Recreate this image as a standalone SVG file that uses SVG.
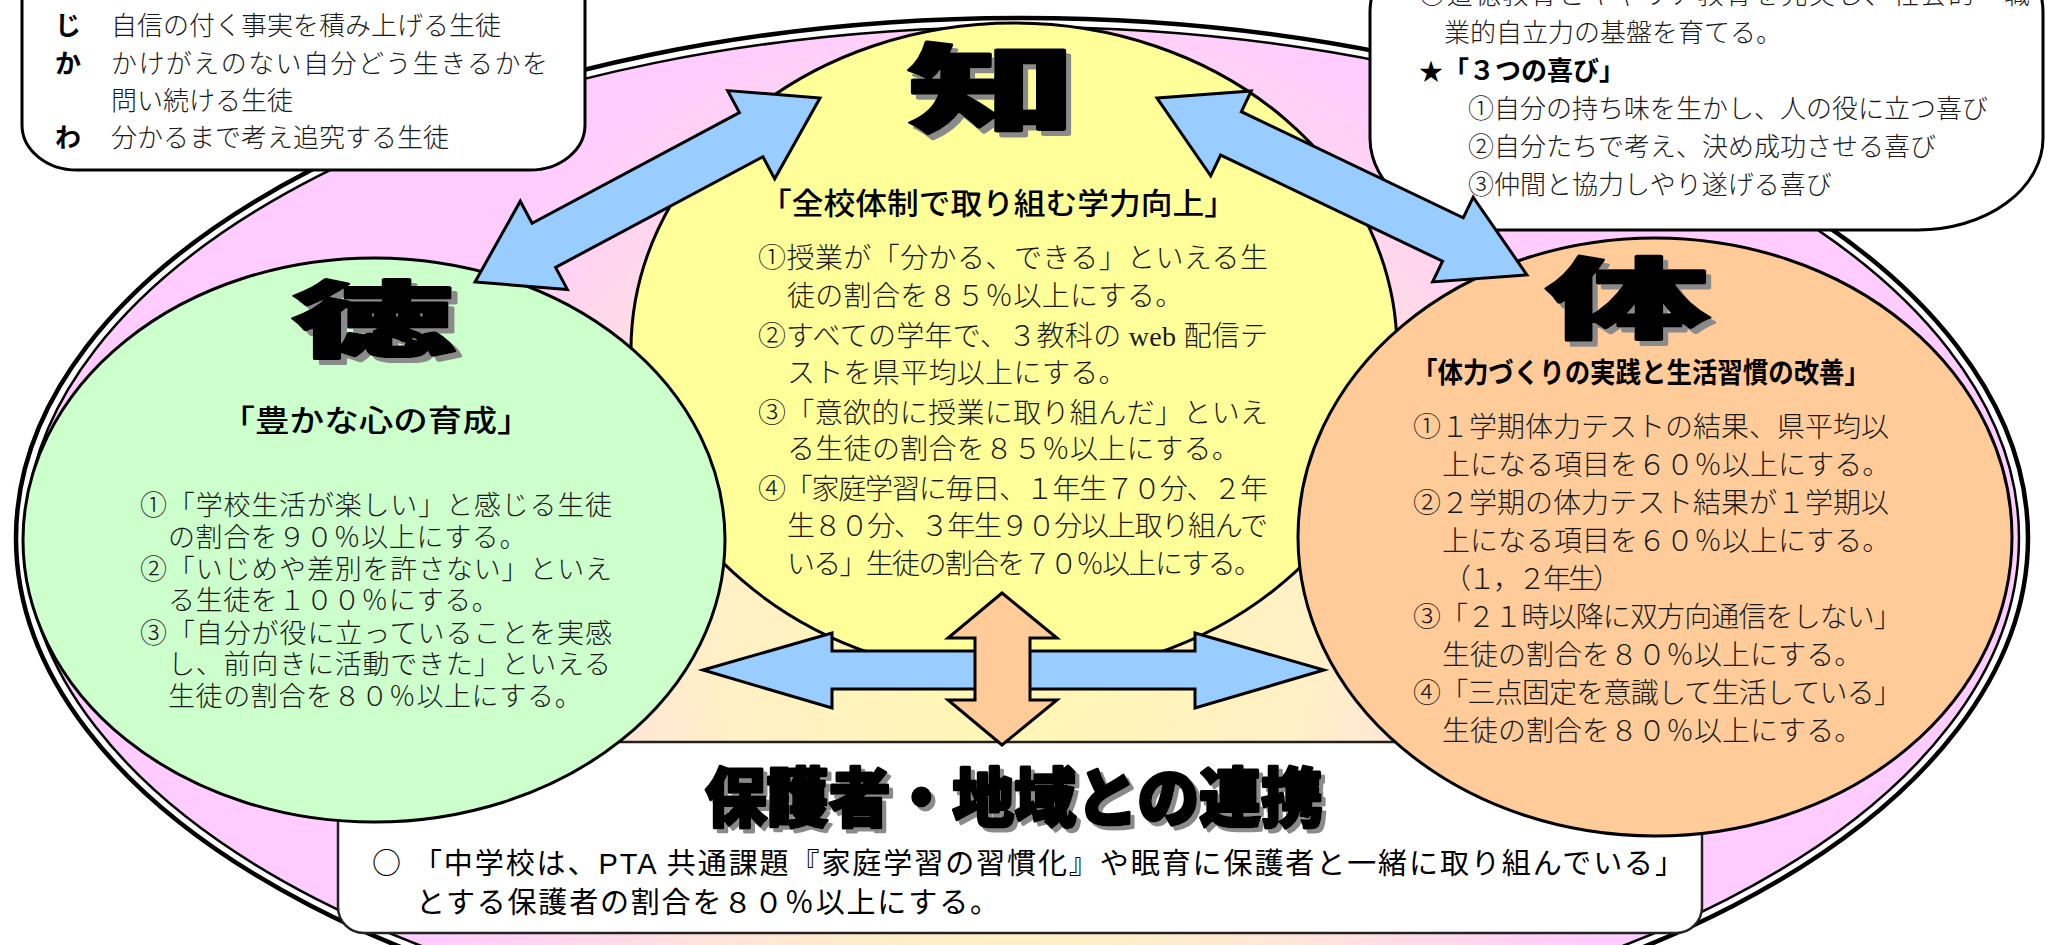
<svg xmlns="http://www.w3.org/2000/svg" width="2047" height="945" viewBox="0 0 2047 945">
<defs>
<radialGradient id="bgGrad" gradientUnits="userSpaceOnUse" cx="1014" cy="640" r="660">
<stop offset="0" stop-color="#FFF8B0"/>
<stop offset="0.45" stop-color="#FFF0C6"/>
<stop offset="0.65" stop-color="#FFE3DC"/>
<stop offset="0.85" stop-color="#FFD4F0"/>
<stop offset="1" stop-color="#FFCCFF"/>
</radialGradient>
<filter id="shBig" x="-20%" y="-20%" width="150%" height="150%">
<feFlood flood-color="#8a8a8a"/>
<feComposite in2="SourceAlpha" operator="in"/>
<feOffset dx="2.8" dy="5" result="s"/>
<feMerge><feMergeNode in="s"/><feMergeNode in="SourceGraphic"/></feMerge>
</filter>
<filter id="shTitle" x="-10%" y="-20%" width="120%" height="150%">
<feFlood flood-color="#8a8a8a"/>
<feComposite in2="SourceAlpha" operator="in"/>
<feOffset dx="4" dy="4" result="s"/>
<feMerge><feMergeNode in="s"/><feMergeNode in="SourceGraphic"/></feMerge>
</filter>
</defs>
<style>
.ser{font-family:'Liberation Serif','Noto Sans CJK JP',serif;fill:#1a1a1a;font-weight:300}
.san{font-family:'Liberation Sans','Noto Sans CJK JP',sans-serif;fill:#000}
.cjk{font-family:'Noto Sans CJK JP',sans-serif}
.big{font-family:'Noto Sans CJK JP',sans-serif;font-weight:900;text-anchor:middle;fill:#000;stroke:#000;stroke-width:3;stroke-linejoin:round}
.node{stroke:#000;stroke-width:3}
.arrow{stroke:#000;stroke-width:3;stroke-linejoin:miter}
.blue{fill:#99CCFF}
.org{fill:#FFCC99}
.box{fill:#fff;stroke:#000;stroke-width:3}
</style>
<rect x="0" y="0" width="2047" height="945" fill="#fff"/>
<g id="frame">
<ellipse cx="1022" cy="538" rx="1006" ry="520" fill="#fff" stroke="#000" stroke-width="4.5"/>
<ellipse cx="1022" cy="538" rx="997" ry="511" fill="url(#bgGrad)" stroke="#000" stroke-width="2.5"/>
</g>
<g id="node-renkei">
<rect x="338" y="742" width="1364" height="191" rx="26" fill="#fff" stroke="#222" stroke-width="2.5"/>
<text class="big" filter="url(#shTitle)" font-size="64" x="1014" y="821" textLength="618" lengthAdjust="spacingAndGlyphs">保護者・地域との連携</text>
<text class="san" font-size="29" x="372" y="874" textLength="1312" lengthAdjust="spacing"><tspan class="cjk">○</tspan> 「中学校は、PTA 共通課題『家庭学習の習慣化』や眠育に保護者と一緒に取り組んでいる」</text>
<text class="san" font-size="29" x="416" y="913" textLength="583" lengthAdjust="spacing">とする保護者の割合を８０％以上にする。</text>
</g>
<g id="node-chi">
<ellipse class="node" cx="1014" cy="350" rx="383" ry="327" fill="#FFFF99"/>
<text class="big" filter="url(#shBig)" font-size="96" transform="translate(992,124) scale(1.75,1)">知</text>
<text class="san" font-size="30" font-weight="500" x="998" y="214" text-anchor="middle" textLength="476" lengthAdjust="spacingAndGlyphs">「全校体制で取り組む学力向上」</text>
<text class="ser" font-size="28" x="758" y="268" textLength="510" lengthAdjust="spacing">①授業が「分かる、できる」といえる生</text>
<text class="ser" font-size="28" x="787" y="306" letter-spacing="0.3">徒の割合を８５％以上にする。</text>
<text class="ser" font-size="28" x="758" y="346" textLength="510" lengthAdjust="spacing">②すべての学年で、３教科の web 配信テ</text>
<text class="ser" font-size="28" x="787" y="383" letter-spacing="0.3">ストを県平均以上にする。</text>
<text class="ser" font-size="28" x="758" y="423" textLength="510" lengthAdjust="spacing">③「意欲的に授業に取り組んだ」といえ</text>
<text class="ser" font-size="28" x="787" y="459" letter-spacing="0.3">る生徒の割合を８５％以上にする。</text>
<text class="ser" font-size="28" x="758" y="499" textLength="510" lengthAdjust="spacing">④「家庭学習に毎日、１年生７０分、２年</text>
<text class="ser" font-size="28" x="787" y="536" textLength="481" lengthAdjust="spacing">生８０分、３年生９０分以上取り組んで</text>
<text class="ser" font-size="28" x="787" y="574" textLength="475" lengthAdjust="spacing">いる」生徒の割合を７０％以上にする。</text>
</g>
<g id="node-toku">
<ellipse class="node" cx="374" cy="540" rx="351" ry="282" fill="#CCFFCC"/>
<text class="big" filter="url(#shBig)" font-size="82" transform="translate(374,350) scale(2,1)">徳</text>
<text class="san" font-size="30" font-weight="500" x="376" y="431" text-anchor="middle" textLength="311" lengthAdjust="spacingAndGlyphs">「豊かな心の育成」</text>
<text class="ser" font-size="27" x="140" y="515" textLength="472" lengthAdjust="spacing">①「学校生活が楽しい」と感じる生徒</text>
<text class="ser" font-size="27" x="168" y="547" letter-spacing="0.6">の割合を９０％以上にする。</text>
<text class="ser" font-size="27" x="140" y="579" textLength="472" lengthAdjust="spacing">②「いじめや差別を許さない」といえ</text>
<text class="ser" font-size="27" x="168" y="610" letter-spacing="0.6">る生徒を１００％にする。</text>
<text class="ser" font-size="27" x="140" y="643" textLength="472" lengthAdjust="spacing">③「自分が役に立っていることを実感</text>
<text class="ser" font-size="27" x="168" y="674" textLength="443" lengthAdjust="spacing">し、前向きに活動できた」といえる</text>
<text class="ser" font-size="27" x="168" y="706" letter-spacing="0.6">生徒の割合を８０％以上にする。</text>
</g>
<g id="node-tai">
<ellipse class="node" cx="1655" cy="537" rx="357" ry="299" fill="#FFCC99"/>
<text class="big" filter="url(#shBig)" font-size="88" transform="translate(1628,331) scale(1.85,1)">体</text>
<text class="san" font-size="28" font-weight="700" x="1641" y="383" text-anchor="middle" textLength="458" lengthAdjust="spacingAndGlyphs">「体力づくりの実践と生活習慣の改善」</text>
<text class="ser" font-size="28" x="1413" y="437" textLength="476" lengthAdjust="spacing">①１学期体力テストの結果、県平均以</text>
<text class="ser" font-size="28" x="1442" y="475">上になる項目を６０％以上にする。</text>
<text class="ser" font-size="28" x="1413" y="513" textLength="476" lengthAdjust="spacing">②２学期の体力テスト結果が１学期以</text>
<text class="ser" font-size="28" x="1442" y="551">上になる項目を６０％以上にする。</text>
<text class="ser" font-size="28" x="1443" y="589" textLength="178" lengthAdjust="spacing">（１，２年生）</text>
<text class="ser" font-size="28" x="1413" y="627" textLength="489" lengthAdjust="spacing">③「２１時以降に双方向通信をしない」</text>
<text class="ser" font-size="28" x="1442" y="665">生徒の割合を８０％以上にする。</text>
<text class="ser" font-size="28" x="1413" y="703" textLength="489" lengthAdjust="spacing">④「三点固定を意識して生活している」</text>
<text class="ser" font-size="28" x="1442" y="741">生徒の割合を８０％以上にする。</text>
</g>
<g id="box-jikawa">
<rect class="box" x="22" y="-80" width="563" height="250" rx="55" ry="45"/>
<text class="san" font-size="26" font-weight="700" x="55" y="35">じ</text>
<text class="ser" font-size="26" x="111" y="35">自信の付く事実を積み上げる生徒</text>
<text class="san" font-size="26" font-weight="700" x="55" y="73">か</text>
<text class="ser" font-size="26" x="111" y="73" textLength="437" lengthAdjust="spacing">かけがえのない自分どう生きるかを</text>
<text class="ser" font-size="26" x="111" y="110">問い続ける生徒</text>
<text class="san" font-size="26" font-weight="700" x="55" y="147">わ</text>
<text class="ser" font-size="26" x="111" y="147">分かるまで考え追究する生徒</text>
</g>
<g id="box-yorokobi">
<rect class="box" x="1370" y="-80" width="673" height="310" rx="125" ry="92"/>
<text class="ser" font-size="26" x="1419" y="4" textLength="611" lengthAdjust="spacing"><tspan class="cjk">○</tspan>道徳教育とキャリア教育を充実し、社会的・職</text>
<text class="ser" font-size="26" x="1444" y="42">業的自立力の基盤を育てる。</text>
<text class="cjk" font-size="24" x="1419" y="80">★</text>
<text class="san" font-size="26" font-weight="700" x="1443" y="80">「３つの喜び」</text>
<text class="ser" font-size="26" x="1468" y="118">①自分の持ち味を生かし、人の役に立つ喜び</text>
<text class="ser" font-size="26" x="1468" y="156">②自分たちで考え、決め成功させる喜び</text>
<text class="ser" font-size="26" x="1468" y="194">③仲間と協力しやり遂げる喜び</text>
</g>
<g id="connectors">
<polygon class="arrow blue" transform="translate(475,282) rotate(-28.07)" points="0,0 78,-50 78,-25 313,-25 313,-50 391,0 313,50 313,25 78,25 78,50"/>
<polygon class="arrow blue" transform="translate(1157,98) rotate(25.56)" points="0,0 82,-47 82,-24 328,-24 328,-47 410,0 328,47 328,24 82,24 82,47"/>
<polygon class="arrow blue" points="703,670 832,633 832,651 1195,651 1195,633 1324,670 1195,708 1195,689 832,689 832,708"/>
<polygon class="arrow org" points="1002,593 1057,638 1030,638 1030,700 1057,700 1002,745 948,700 975,700 975,638 948,638"/>
</g>
</svg>
